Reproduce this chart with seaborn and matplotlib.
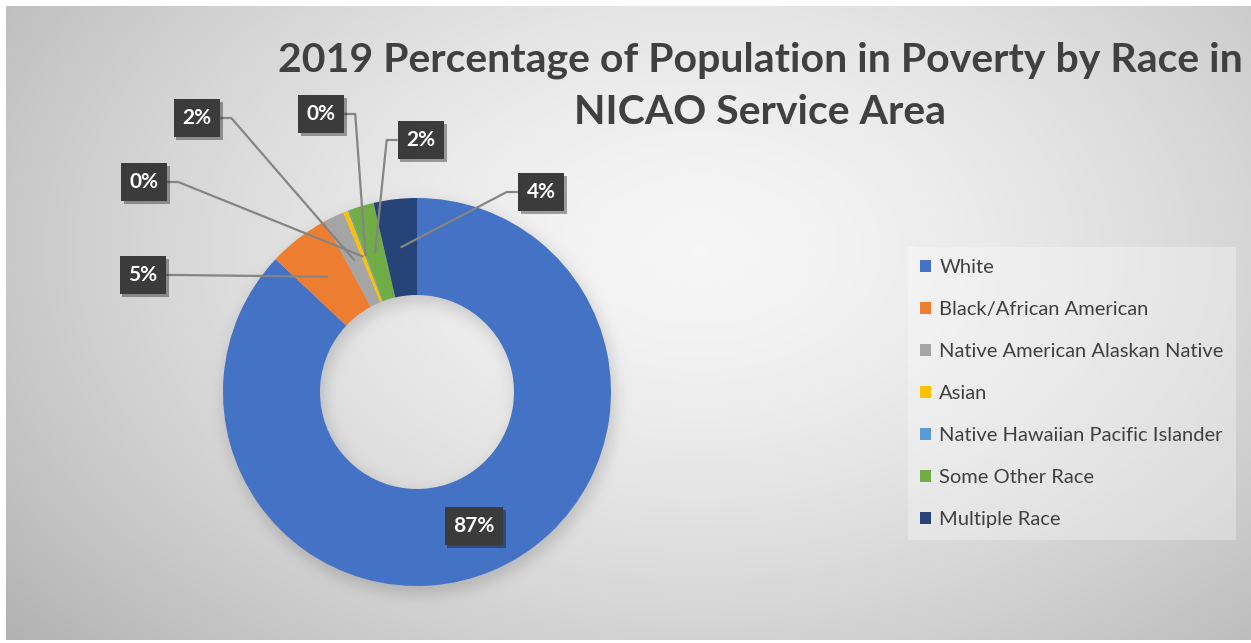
import numpy as np
import matplotlib
matplotlib.use("Agg")
import matplotlib.pyplot as plt
import matplotlib.patheffects as pe
import seaborn as sns

# ---- data ----
categories = [
    "White",
    "Black/African American",
    "Native American Alaskan Native",
    "Asian",
    "Native Hawaiian Pacific Islander",
    "Some Other Race",
    "Multiple Race",
]
shares = [87.0, 5.1, 1.7, 0.4, 0.1, 2.1, 3.6]
colors = ["#4472C4", "#ED7D31", "#A5A5A5", "#FFC000", "#5B9BD5", "#70AD47", "#264478"]
title_lines = ["2019 Percentage of Population in Poverty by Race in", "NICAO Service Area"]

# ---- layout (pixels, origin top-left) ----
W, H, DPI = 1251, 643, 100
CX, CY, R_PX = 417, 392, 194          # donut centre and outer radius
# data-label box centres and the side their leader line leaves from
label_centers = [(474, 526), (143, 275), (197, 118), (144, 182), (321, 114), (421, 140), (541, 192)]
label_sides = [None, "right", "right", "right", "right", "left", "left"]

sns.set_theme(style="white")
plt.rcParams["font.family"] = ["Lato", "DejaVu Sans"]
palette = sns.color_palette(colors)

fig = plt.figure(figsize=(W / DPI, H / DPI), dpi=DPI, facecolor="white")

# ---- chart-area background: soft radial gradient with donut drop shadow ----
x0, y0, x1, y1 = 6, 6, W, 640
bg_ax = fig.add_axes([x0 / W, 1 - y1 / H, (x1 - x0) / W, (y1 - y0) / H])
yy, xx = np.mgrid[y0:y1, x0:x1] + 0.5
d = np.sqrt(((xx - 700) / 720) ** 2 + ((yy - 250) / 480) ** 2)
shade = 0.965 - 0.19 * d ** 1.5


def gauss_blur(img, sigma):
    k = np.arange(-3 * sigma, 3 * sigma + 1)
    k = np.exp(-k ** 2 / (2 * sigma ** 2))
    k /= k.sum()
    out = np.apply_along_axis(lambda m: np.convolve(m, k, mode="same"), 0, img)
    return np.apply_along_axis(lambda m: np.convolve(m, k, mode="same"), 1, out)


rr = np.hypot(xx - (CX + 3), yy - (CY + 6))
ring = ((rr <= R_PX + 2) & (rr >= R_PX / 2 - 2)).astype(float)
shade -= 0.13 * gauss_blur(ring, 7)
shade = np.clip(shade, 0, 1)
bg_ax.imshow(np.dstack([shade] * 3), aspect="auto", interpolation="bilinear")
bg_ax.axis("off")

# ---- donut ----
ax = fig.add_axes([0, 0, 1, 1])
ax.patch.set_alpha(0)
wedges, _ = ax.pie(
    shares,
    colors=palette,
    startangle=90,
    counterclock=False,
    radius=1.0,
    wedgeprops=dict(width=0.5, linewidth=0),
)
ax.set_aspect("auto")
ax.set_xlim(-CX / R_PX, (W - CX) / R_PX)
ax.set_ylim((CY - H) / R_PX, CY / R_PX)
ax.axis("off")


def px(xp, yp):
    return (xp - CX) / R_PX, (CY - yp) / R_PX


# ---- data labels ----
texts = []
for val, (lx, ly) in zip(shares, label_centers):
    t = ax.text(*px(lx, ly), f"{round(val):.0f}%", ha="center", va="center",
                color="white", fontsize=15, fontweight="bold", zorder=6,
                bbox=dict(boxstyle="square,pad=0.42", fc="#3b3b3b", ec="none"))
    t.get_bbox_patch().set_path_effects(
        [pe.withSimplePatchShadow(offset=(2, -2), shadow_rgbFace="black", alpha=0.35)])
    texts.append(t)

fig.canvas.draw()
renderer = fig.canvas.get_renderer()
inv = ax.transData.inverted()
for w, t, side in zip(wedges, texts, label_sides):
    if side is None:
        continue
    mid = np.deg2rad((w.theta1 + w.theta2) / 2)
    anchor = (0.75 * np.cos(mid), 0.75 * np.sin(mid))
    ext = t.get_bbox_patch().get_window_extent(renderer)
    ymid = (ext.y0 + ext.y1) / 2
    if side == "right":
        a, e = (ext.x1, ymid), (ext.x1 + 11, ymid)
    else:
        a, e = (ext.x0, ymid), (ext.x0 - 11, ymid)
    a, e = inv.transform(a), inv.transform(e)
    ax.plot([a[0], e[0], anchor[0]], [a[1], e[1], anchor[1]],
            color="#858585", lw=1.6, zorder=5, solid_capstyle="butt")

# ---- legend ----
fig.legend(
    handles=wedges, labels=categories,
    loc="upper left", bbox_to_anchor=(908 / W, 1 - 247 / H),
    frameon=True, facecolor="white", framealpha=0.3, edgecolor="none", fancybox=False,
    fontsize=14.5, labelcolor="#404040",
    handlelength=0.55, handleheight=0.55, handletextpad=0.4,
    labelspacing=1.24, borderpad=0.6, borderaxespad=0,
)

# ---- title ----
fig.text(760 / W, 1 - 60 / H, title_lines[0], ha="center", va="center",
         fontsize=29.5, fontweight="bold", color="#404040")
fig.text(760 / W, 1 - 112 / H, title_lines[1], ha="center", va="center",
         fontsize=29.5, fontweight="bold", color="#404040")

fig.savefig("out.png", dpi=DPI, facecolor="white")
